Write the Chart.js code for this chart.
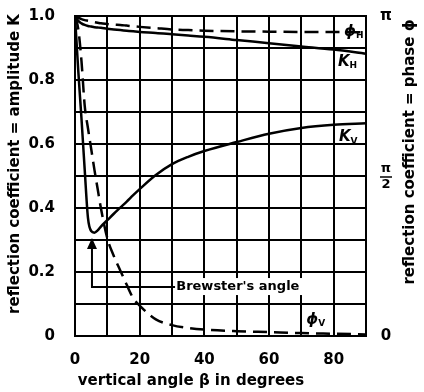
<!DOCTYPE html>
<html>
<head>
<meta charset="utf-8">
<script src="https://cdn.jsdelivr.net/npm/chart.js@4/dist/chart.umd.min.js"></script>
<style>
  html, body { margin: 0; padding: 0; background: #fff; }
  #wrap { width: 424px; height: 392px; position: relative; }
</style>
</head>
<body>
<div id="wrap"><canvas id="chart"></canvas></div>
<script>
// vertical angle beta in degrees
const angles = [0, 1, 2, 3, 4, 5, 6, 7, 8, 10, 12, 14, 16, 18, 20, 25, 30, 35, 40, 50, 60, 70, 80, 90];

// amplitude K (left axis) and phase phi as fraction of pi (right axis)
const kH = [1.0, 0.985, 0.977, 0.972, 0.969, 0.967, 0.965, 0.964, 0.963, 0.96, 0.958, 0.956, 0.954, 0.952, 0.95, 0.947, 0.943, 0.939, 0.935, 0.925, 0.915, 0.905, 0.895, 0.882];
const phiH = [1.0, 0.995, 0.99, 0.987, 0.985, 0.983, 0.981, 0.979, 0.977, 0.975, 0.973, 0.972, 0.97, 0.968, 0.966, 0.962, 0.958, 0.956, 0.954, 0.952, 0.951, 0.95, 0.95, 0.949];
const kV = [1.0, 0.83, 0.68, 0.52, 0.37, 0.328, 0.323, 0.33, 0.342, 0.362, 0.382, 0.401, 0.42, 0.44, 0.459, 0.503, 0.537, 0.56, 0.578, 0.606, 0.632, 0.65, 0.66, 0.665];
const phiV = [1.0, 0.96, 0.86, 0.72, 0.65, 0.585, 0.52, 0.46, 0.4, 0.305, 0.25, 0.205, 0.16, 0.118, 0.095, 0.052, 0.034, 0.025, 0.02, 0.015, 0.012, 0.009, 0.007, 0.005];

const brewsterAngle = 5.25;

const pts = (ys) => angles.map((a, i) => ({ x: a, y: ys[i] }));
const BOLD = "bold 15px 'DejaVu Sans'";

function line(ys, dashed, axis) {
  return {
    data: pts(ys),
    yAxisID: axis,
    borderColor: "#000",
    borderWidth: 2.5,
    borderDash: dashed ? [14, 7] : [],
    pointRadius: 0,
    cubicInterpolationMode: "monotone",
    fill: false,
  };
}

function curveLabel(ctx, x, y, main, sub) {
  ctx.font = "bold italic 15px 'DejaVu Sans'";
  ctx.textAlign = "left";
  ctx.textBaseline = "middle";
  const w = ctx.measureText(main).width;
  ctx.fillText(main, x - 8, y);
  ctx.font = "bold 9px 'DejaVu Sans'";
  ctx.fillText(sub, x - 8 + w, y + 4);
}

const extras = {
  id: "extras",
  afterDraw(chart) {
    const { ctx, scales } = chart;
    const xs = scales.x, ys = scales.y, y2 = scales.y2;
    ctx.save();
    ctx.fillStyle = "#000";
    ctx.strokeStyle = "#000";

    // Brewster's angle arrow
    const ax = xs.getPixelForValue(brewsterAngle);
    const ay = ys.getPixelForValue(0.153);
    const tip = ys.getPixelForValue(0.306);
    const tx = xs.getPixelForValue(31);
    ctx.lineWidth = 2;
    ctx.beginPath();
    ctx.moveTo(tx, ay);
    ctx.lineTo(ax, ay);
    ctx.lineTo(ax, tip + 8);
    ctx.stroke();
    ctx.beginPath();
    ctx.moveTo(ax, tip);
    ctx.lineTo(ax - 5, tip + 11);
    ctx.lineTo(ax + 5, tip + 11);
    ctx.closePath();
    ctx.fill();

    ctx.font = "bold 13px 'DejaVu Sans'";
    ctx.textAlign = "left";
    ctx.textBaseline = "middle";
    const label = "Brewster's angle";
    const lw = ctx.measureText(label).width;
    ctx.fillStyle = "#fff";
    ctx.fillRect(tx, ay - 9, lw + 6, 17);
    ctx.fillStyle = "#000";
    ctx.fillText(label, tx + 1, ay);

    // curve labels
    curveLabel(ctx, xs.getPixelForValue(85.7), ys.getPixelForValue(0.95), "\u03d5", "H");
    curveLabel(ctx, xs.getPixelForValue(83.8), ys.getPixelForValue(0.856), "K", "H");
    curveLabel(ctx, xs.getPixelForValue(84.1), ys.getPixelForValue(0.62), "K", "V");
    curveLabel(ctx, xs.getPixelForValue(74), y2.getPixelForValue(0.05), "\u03d5", "V");

    // right phase ticks
    const rx = 386;
    ctx.font = "bold 15px 'DejaVu Sans'";
    ctx.textAlign = "center";
    ctx.textBaseline = "middle";
    ctx.fillText("\u03c0", rx, y2.getPixelForValue(1));
    ctx.fillText("0", rx, y2.getPixelForValue(0));
    const my = y2.getPixelForValue(0.5);
    ctx.font = "bold 13px 'DejaVu Sans'";
    ctx.fillText("\u03c0", rx, my - 7);
    ctx.fillText("2", rx, my + 9);
    ctx.lineWidth = 1.5;
    ctx.beginPath();
    ctx.moveTo(rx - 6, my + 1);
    ctx.lineTo(rx + 6, my + 1);
    ctx.stroke();

    // axis titles
    ctx.font = BOLD;
    ctx.textAlign = "center";
    ctx.fillText("vertical angle \u03b2 in degrees", 191, 381);

    ctx.save();
    ctx.translate(15, 164);
    ctx.rotate(-Math.PI / 2);
    ctx.fillText("reflection coefficient = amplitude K", 0, 0);
    ctx.restore();

    ctx.save();
    ctx.translate(410, 152);
    ctx.rotate(-Math.PI / 2);
    ctx.fillText("reflection coefficient = phase \u03d5", 0, 0);
    ctx.restore();

    ctx.restore();
  },
};

const gridOpts = { color: "#000", lineWidth: 2, drawTicks: false };
const tickFont = { family: "DejaVu Sans", size: 15, weight: "bold" };

new Chart(document.getElementById("chart"), {
  type: "line",
  data: {
    datasets: [
      line(kH, false, "y"),
      line(phiH, true, "y2"),
      line(kV, false, "y"),
      line(phiV, true, "y2"),
    ],
  },
  options: {
    responsive: true,
    maintainAspectRatio: false,
    animation: false,
    layout: { padding: { top: 16, left: 0, right: 0, bottom: 0 } },
    plugins: { legend: { display: false }, tooltip: { enabled: false } },
    scales: {
      x: {
        type: "linear",
        min: 0,
        max: 90,
        grid: gridOpts,
        border: { color: "#000", width: 2 },
        ticks: {
          stepSize: 10,
          padding: 15,
          color: "#000",
          font: tickFont,
          maxRotation: 0,
          callback: (v) => (v % 20 === 0 ? v : ""),
        },
        afterFit: (s) => { s.height = 56; s.paddingLeft = 0; s.paddingRight = 0; },
      },
      y: {
        min: 0,
        max: 1,
        grid: gridOpts,
        border: { color: "#000", width: 2 },
        ticks: {
          stepSize: 0.1,
          padding: 20,
          color: "#000",
          font: tickFont,
          callback: (v) => {
            const n = Math.round(v * 10);
            if (n % 2 !== 0) return "";
            return n === 0 ? "0" : (n / 10).toFixed(1);
          },
        },
        afterFit: (s) => { s.width = 75; s.paddingTop = 0; s.paddingBottom = 0; },
      },
      y2: {
        position: "right",
        min: 0,
        max: 1,
        grid: { drawOnChartArea: false, drawTicks: false },
        border: { color: "#000", width: 2 },
        ticks: { display: false },
        afterFit: (s) => { s.width = 58; s.paddingTop = 0; s.paddingBottom = 0; },
      },
    },
  },
  plugins: [extras],
});
</script>
</body>
</html>
